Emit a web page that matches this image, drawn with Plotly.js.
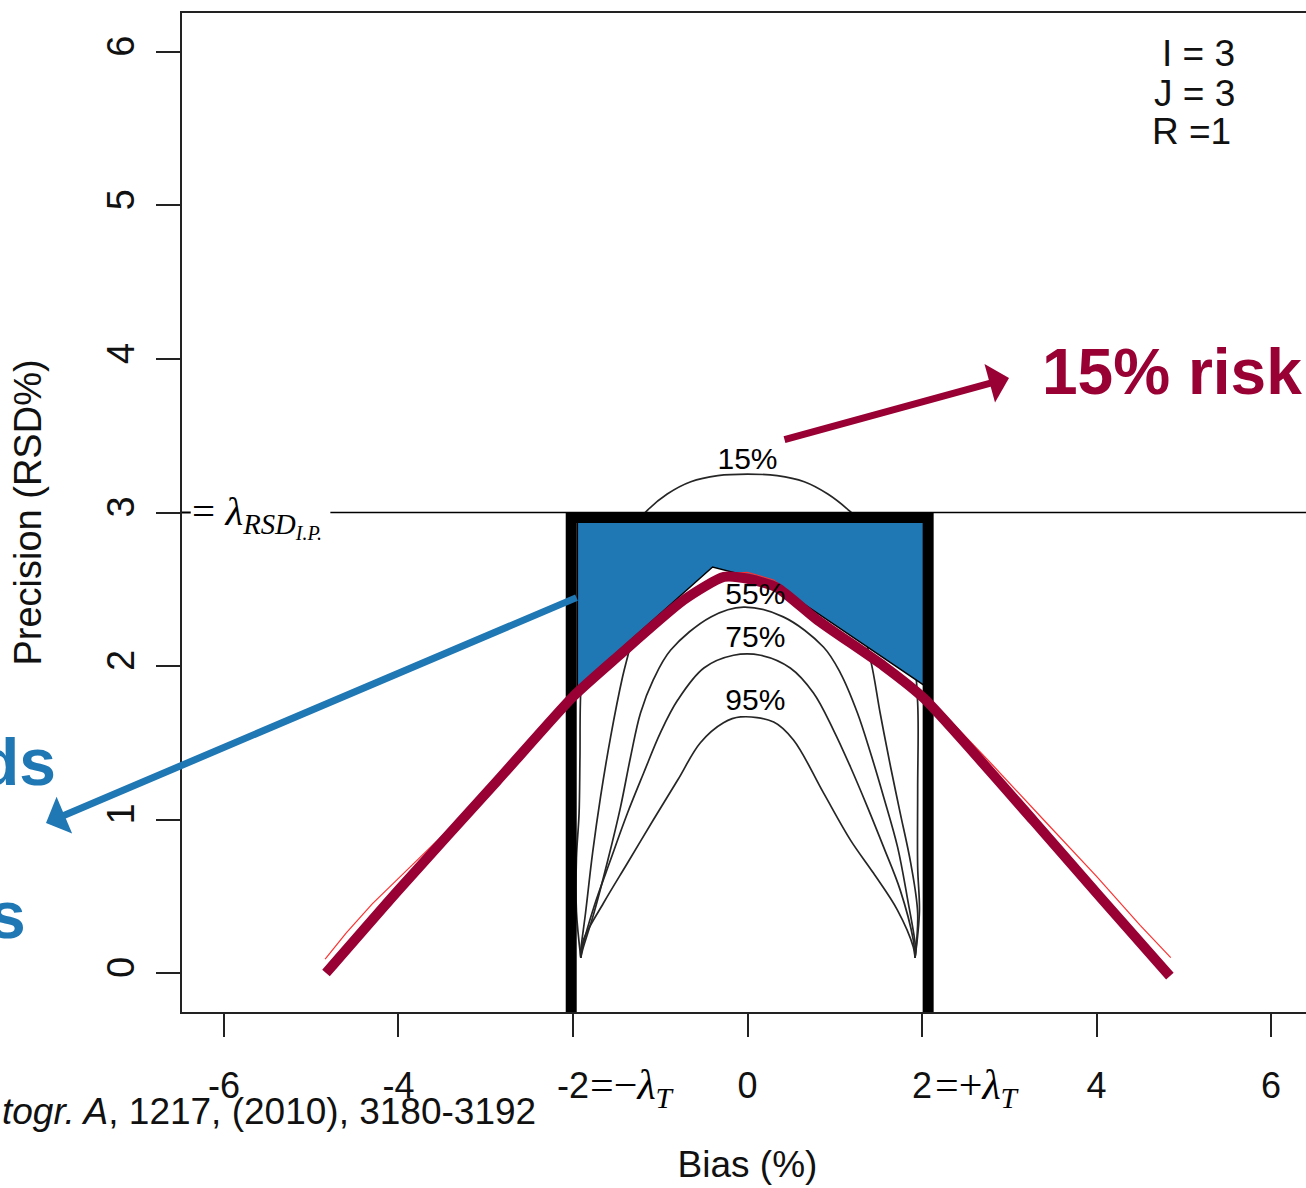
<!DOCTYPE html>
<html>
<head>
<meta charset="utf-8">
<script src="https://cdn.plot.ly/plotly-3.0.1.min.js"></script>
<style>
html, body { margin:0; padding:0; overflow:hidden; background:#ffffff; }
#chart { width:1330px; height:1188px; }
</style>
</head>
<body>
<div id="chart"></div>
<script>
// ---------------- data ----------------
const xTickVals = [-6, -4, -2, 0, 2, 4, 6];
const xTickText = ['-6', '-4', '-2', '0', '2', '4', '6'];
const yTickVals = [0, 1, 2, 3, 4, 5, 6];
const yTickText = ['0', '1', '2', '3', '4', '5', '6'];

// iso-probability contours (risk levels)
const c15x = [-1.91,-1.96,-1.96,-1.93,-1.92,-1.91,-1.85,-1.65,-1.40,-1.145,-0.92,-0.65,-0.34,0.0,0.34,0.65,0.92,1.157,1.45,1.70,1.88,1.95,1.95,1.95,1.97,1.92];
const c15y = [0.10,0.40,0.75,1.04,1.40,1.84,2.20,2.60,2.85,3.016,3.12,3.20,3.24,3.25,3.24,3.20,3.12,3.016,2.85,2.60,2.20,1.76,1.20,0.69,0.40,0.10];
const c35x = [-1.91,-1.913,-1.856,-1.775,-1.684,-1.569,-1.432,-1.363,-1.25,-0.90,-0.40,0.0,0.40,0.90,1.25,1.41,1.52,1.64,1.75,1.87,1.95,1.92];
const c35y = [0.10,0.13,0.391,0.782,1.147,1.537,1.928,2.085,2.35,2.65,2.80,2.83,2.80,2.65,2.35,2.04,1.694,1.342,1.042,0.717,0.39,0.10];
const c55x = [-1.91,-1.89,-1.76,-1.60,-1.455,-1.34,-1.226,-1.08,-0.88,-0.42,-0.046,0.41,0.87,1.065,1.26,1.41,1.56,1.72,1.83,1.925,1.92];
const c55y = [0.10,0.15,0.39,0.736,1.081,1.407,1.694,1.909,2.104,2.32,2.384,2.32,2.124,1.954,1.694,1.433,1.147,0.82,0.495,0.17,0.10];
const c75x = [-1.91,-1.89,-1.76,-1.57,-1.375,-1.19,-1.0,-0.80,-0.50,-0.16,0.15,0.49,0.756,0.985,1.18,1.375,1.56,1.75,1.90,1.92];
const c75y = [0.10,0.17,0.43,0.736,1.042,1.303,1.563,1.778,1.987,2.07,2.07,1.987,1.824,1.583,1.342,1.081,0.82,0.54,0.215,0.10];
const c95x = [-1.91,-1.88,-1.65,-1.375,-1.08,-0.80,-0.54,-0.275,-0.08,0.30,0.527,0.871,1.18,1.443,1.718,1.90,1.92];
const c95y = [0.10,0.215,0.456,0.717,0.997,1.257,1.50,1.63,1.668,1.635,1.518,1.173,0.866,0.651,0.41,0.17,0.10];

// contour labels
const contourLabels = ['15%', '55%', '75%', '95%'];
const contourLabelX = [0.0, 0.09, 0.09, 0.09];
const contourLabelY = [3.33, 2.455, 2.175, 1.76];

// acceptance limits
const lambdaRSD = 3;
const lambdaLineX = [-4.78, 6.6];
const boxX = [-2.02, -2.02, 2.07, 2.07];
const boxY = [-0.4, 2.967, 2.967, -0.4];

// highlighted (blue) region between the limits and the 15% risk curve
const regionX = [-1.95, -0.40, 0.28, 2.02, 2.02, -1.95, -1.95];
const regionY = [1.86, 2.645, 2.545, 1.876, 2.95, 2.95, 1.86];

// 15% risk curve (thin raw and thick smoothed)
const riskRawX = [-4.84,-4.6,-4.3,-3.92,-3.0,-2.0,-0.7,-0.3,0.0,0.3,1.0,2.13,2.8,3.39,4.0,4.5,4.85];
const riskRawY = [0.09,0.26,0.45,0.66,1.17,1.81,2.44,2.60,2.61,2.56,2.24,1.76,1.36,1.0,0.63,0.31,0.10];
const riskX = [-4.83,-4.0,-2.87,-2.0,-1.49,-0.73,-0.27,0.03,0.34,0.80,1.56,2.02,3.28,4.04,4.84];
const riskY = [0.0,0.54,1.25,1.80,2.06,2.43,2.58,2.565,2.51,2.30,2.0,1.79,0.99,0.495,-0.02];

// ---------------- helpers (pixel -> paper for annotations) ----------------
const M = {l:182, r:17, t:13, b:176};
const W = 1330, H = 1188;
const PX = px => (px - M.l) / (W - M.l - M.r);
const PY = py => (H - M.b - py) / (H - M.t - M.b);

const SANS = 'Liberation Sans, Arial, Helvetica, sans-serif';
const SERIF = 'Liberation Serif, Times New Roman, serif';
const DARKRED = '#990033';
const BLUE = '#1f77b4';

const contourStyle = {color:'#262626', width:1.7, shape:'spline', smoothing:1};
const traces = [
  {x:c15x, y:c15y, mode:'lines', line:contourStyle, hoverinfo:'skip'},
  {x:c35x, y:c35y, mode:'lines', line:contourStyle, hoverinfo:'skip'},
  {x:c55x, y:c55y, mode:'lines', line:contourStyle, hoverinfo:'skip'},
  {x:c75x, y:c75y, mode:'lines', line:contourStyle, hoverinfo:'skip'},
  {x:c95x, y:c95y, mode:'lines', line:contourStyle, hoverinfo:'skip'},
  {x:lambdaLineX, y:[lambdaRSD, lambdaRSD], mode:'lines', line:{color:'#000', width:1.6}, hoverinfo:'skip'},
  {x:[-6.48, -6.38], y:[lambdaRSD, lambdaRSD], mode:'lines', line:{color:'#000', width:2}, hoverinfo:'skip'},
  {x:regionX, y:regionY, mode:'lines', fill:'toself', fillcolor:BLUE, line:{color:'#000', width:1.5}, hoverinfo:'skip'},
  {x:boxX, y:boxY, mode:'lines', line:{color:'#000', width:11}, hoverinfo:'skip'},
  {x:riskRawX, y:riskRawY, mode:'lines', line:{color:'#ff3030', width:1.2}, hoverinfo:'skip'},
  {x:riskX, y:riskY, mode:'lines', line:{color:DARKRED, width:10, shape:'spline', smoothing:0.6}, hoverinfo:'skip'},
  {x:contourLabelX, y:contourLabelY, mode:'text', text:contourLabels, textposition:'middle center',
   textfont:{family:SANS, size:30, color:'#000'}, hoverinfo:'skip', cliponaxis:false}
];

const annotations = [
  {xref:'paper', yref:'paper', x:PX(1237), y:PY(54), xanchor:'right', yanchor:'middle', showarrow:false,
   text:'I = 3', font:{family:SANS, size:37, color:'#111'}},
  {xref:'paper', yref:'paper', x:PX(1237), y:PY(94), xanchor:'right', yanchor:'middle', showarrow:false,
   text:'J = 3', font:{family:SANS, size:37, color:'#111'}},
  {xref:'paper', yref:'paper', x:PX(1233), y:PY(131), xanchor:'right', yanchor:'middle', showarrow:false,
   text:'R =1', font:{family:SANS, size:37, color:'#111'}},
  {xref:'paper', yref:'paper', x:PX(1040), y:PY(372), xanchor:'left', yanchor:'middle', showarrow:false,
   text:'15% risk', font:{family:SANS, size:64, color:DARKRED, weight:'bold'}},
  {xref:'paper', yref:'paper', x:PX(58), y:PY(762), xanchor:'right', yanchor:'middle', showarrow:false,
   text:'ds', font:{family:SANS, size:66, color:BLUE, weight:'bold'}},
  {xref:'paper', yref:'paper', x:PX(28), y:PY(915), xanchor:'right', yanchor:'middle', showarrow:false,
   text:'s', font:{family:SANS, size:66, color:BLUE, weight:'bold'}},
  {xref:'paper', yref:'paper', x:PX(538), y:PY(1111), xanchor:'right', yanchor:'middle', showarrow:false,
   text:'<i>togr. A</i>, 1217, (2010), 3180-3192', font:{family:SANS, size:37, color:'#111'}},
  {xref:'paper', yref:'paper', x:PX(190), y:PY(516), xanchor:'left', yanchor:'middle', showarrow:false,
   text:'= <i>λ</i><sub><i>RSD</i><sub><i>I.P.</i></sub></sub>', font:{family:SERIF, size:41, color:'#000'}},
  {xref:'paper', yref:'paper', x:PX(588), y:PY(1088), xanchor:'left', yanchor:'middle', showarrow:false,
   text:'=−<i>λ</i><sub><i>T</i></sub>', font:{family:SERIF, size:42, color:'#000'}},
  {xref:'paper', yref:'paper', x:PX(933), y:PY(1088), xanchor:'left', yanchor:'middle', showarrow:false,
   text:'=+<i>λ</i><sub><i>T</i></sub>', font:{family:SERIF, size:42, color:'#000'}},
  {xref:'paper', yref:'paper', x:PX(46), y:PY(823), text:'', showarrow:true,
   axref:'pixel', ayref:'pixel', ax:532, ay:-226, arrowhead:1, arrowsize:0.95, arrowwidth:7,
   arrowcolor:BLUE, standoff:0},
  {xref:'paper', yref:'paper', x:PX(1009), y:PY(378), text:'', showarrow:true,
   axref:'pixel', ayref:'pixel', ax:-226, ay:62, arrowhead:1, arrowsize:0.95, arrowwidth:7,
   arrowcolor:DARKRED, standoff:0}
];

const layout = {
  width:W, height:H, margin:M,
  paper_bgcolor:'#ffffff', plot_bgcolor:'#ffffff',
  showlegend:false,
  xaxis:{
    range:[-6.48, 6.48], tickmode:'array', tickvals:xTickVals, ticktext:xTickText,
    ticks:'outside', ticklen:23, tickwidth:2, tickcolor:'#222',
    showline:true, linecolor:'#222', linewidth:2, mirror:true,
    showgrid:false, zeroline:false, ticklabelstandoff:18,
    tickfont:{family:SANS, size:36, color:'#111'},
    title:{text:'Bias (%)', font:{family:SANS, size:37, color:'#111'}, standoff:46}
  },
  yaxis:{
    range:[-0.254, 6.254], tickmode:'array', tickvals:yTickVals, ticktext:yTickText, tickangle:-90,
    ticks:'outside', ticklen:24, tickwidth:2, tickcolor:'#222',
    showline:true, linecolor:'#222', linewidth:2, mirror:true,
    showgrid:false, zeroline:false, ticklabelstandoff:7,
    tickfont:{family:SANS, size:38, color:'#111'},
    title:{text:'Precision (RSD%)', font:{family:SANS, size:38, color:'#111'}, standoff:46}
  },
  annotations:annotations
};

Plotly.newPlot('chart', traces, layout, {staticPlot:true, displayModeBar:false});
</script>
</body>
</html>
